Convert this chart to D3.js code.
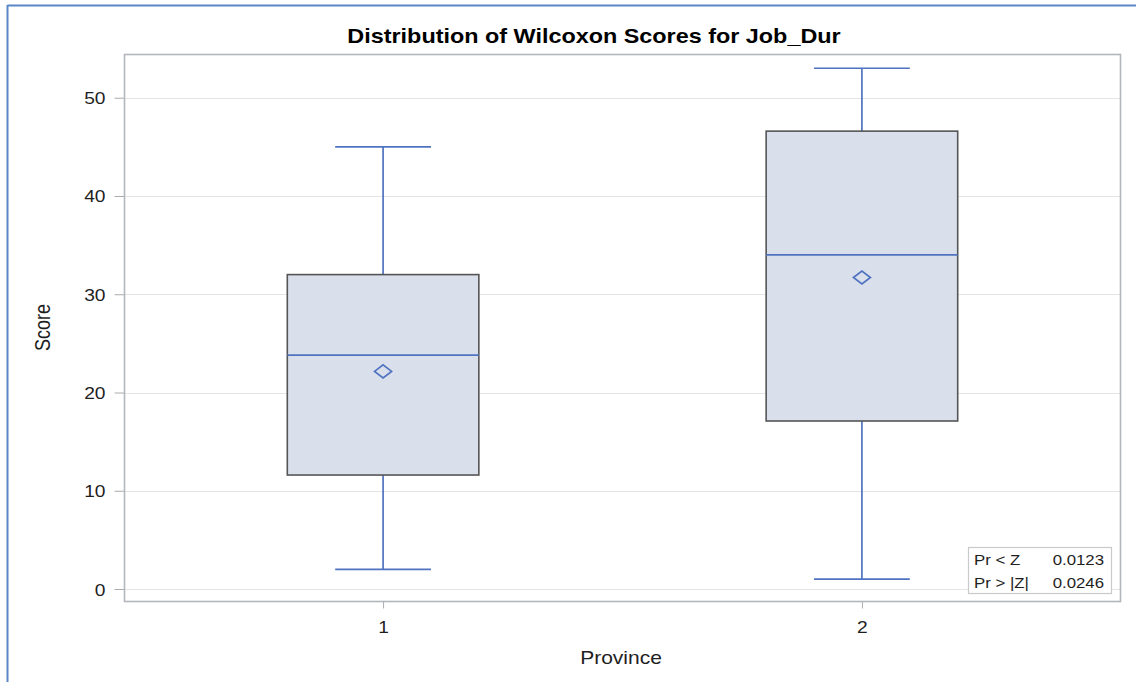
<!DOCTYPE html>
<html>
<head>
<meta charset="utf-8">
<script src="https://cdn.jsdelivr.net/npm/d3@7"></script>
<style>
  html, body { margin: 0; padding: 0; background: #fff; }
  svg { display: block; font-family: "Liberation Sans", Arial, sans-serif; }
</style>
</head>
<body>
<svg id="chart" width="1136" height="682"></svg>
<script>
// Wilcoxon score distribution by province
const provinces = ["1", "2"];
const whiskerLow = [2, 1];
const quartile1 = [11.6, 17.1];
const medians = [23.8, 34.0];
const quartile3 = [32.0, 46.6];
const whiskerHigh = [45, 53];
const means = [22.15, 31.7];
const yTicks = [0, 10, 20, 30, 40, 50];
const statLabels = ["Pr < Z", "Pr > |Z|"];
const statValues = ["0.0123", "0.0246"];

const svg = d3.select("#chart");
const W = 1136, H = 682;
const plot = { left: 124.5, top: 54.5, right: 1120.5, bottom: 601.5 };
const SX = 1.2;            // horizontal widening applied to all type
const ink = "#1e1e1e";
const blue = "#4f73c0";

// text helper: places a horizontally widened label at (x, y)
function label(parent, x, y, str, size, anchor, extra) {
  const t = parent.append("text")
    .attr("transform", `translate(${x},${y}) scale(${SX},1)`)
    .attr("text-anchor", anchor)
    .attr("font-size", size)
    .attr("fill", ink)
    .text(str);
  if (extra) extra(t);
  return t;
}

// outer frame (blue rule along top and left)
svg.append("line").attr("x1", 7.5).attr("x2", W).attr("y1", 5.5).attr("y2", 5.5)
  .attr("stroke", "#5b87c8").attr("stroke-width", 2);
svg.append("line").attr("x1", 7.5).attr("x2", 7.5).attr("y1", 5).attr("y2", H)
  .attr("stroke", "#5b87c8").attr("stroke-width", 2);

const x = d3.scalePoint().domain(provinces).range([plot.left, plot.right]).padding(0.54);
const y = d3.scaleLinear().domain([-1.22, 54.4]).range([plot.bottom - 0.5, plot.top]);

const step = x.step();
const boxW = step * 0.4;
const capW = boxW / 2;

// gridlines
svg.append("g").selectAll("line").data(yTicks).join("line")
  .attr("x1", plot.left).attr("x2", plot.right)
  .attr("y1", d => Math.round(y(d)) + 0.5).attr("y2", d => Math.round(y(d)) + 0.5)
  .attr("stroke", "#e4e4e4").attr("stroke-width", 1.2);

// y axis: ticks from d3, labels widened by hand
const yAxis = svg.append("g").attr("transform", `translate(${plot.left},0)`)
  .call(d3.axisLeft(y).tickValues(yTicks).tickSize(10).tickFormat(d3.format("d")));
yAxis.select(".domain").remove();
yAxis.selectAll(".tick line").attr("stroke", "#a8acb0");
yAxis.selectAll(".tick text").remove();
yAxis.selectAll(".tick").each(function (d) {
  label(d3.select(this), -19, 6, d3.format("d")(d), 16, "end");
});

// x axis
const xAxis = svg.append("g").attr("transform", `translate(0,${plot.bottom})`)
  .call(d3.axisBottom(x).tickSize(7));
xAxis.select(".domain").remove();
xAxis.selectAll(".tick line").attr("stroke", "#a8acb0");
xAxis.selectAll(".tick text").remove();
xAxis.selectAll(".tick").each(function (d) {
  label(d3.select(this), 0, 31, d, 16, "middle");
});

// boxes
const groups = svg.append("g").selectAll("g").data(provinces).join("g");

function vline(sel, from, to) {
  sel.append("line")
    .attr("x1", d => x(d)).attr("x2", d => x(d))
    .attr("y1", (d, i) => y(from[i])).attr("y2", (d, i) => y(to[i]))
    .attr("stroke", blue).attr("stroke-width", 1.7);
}
function hline(sel, at, half) {
  sel.append("line")
    .attr("x1", d => x(d) - half).attr("x2", d => x(d) + half)
    .attr("y1", (d, i) => y(at[i])).attr("y2", (d, i) => y(at[i]))
    .attr("stroke", blue).attr("stroke-width", 1.7);
}
vline(groups, whiskerHigh, quartile3);
vline(groups, quartile1, whiskerLow);
hline(groups, whiskerHigh, capW / 2);
hline(groups, whiskerLow, capW / 2);

groups.append("rect")
  .attr("x", d => x(d) - boxW / 2).attr("width", boxW)
  .attr("y", (d, i) => y(quartile3[i]))
  .attr("height", (d, i) => y(quartile1[i]) - y(quartile3[i]))
  .attr("fill", "#d9e0ec").attr("stroke", "#555").attr("stroke-width", 1.6);

hline(groups, medians, boxW / 2);

// mean markers
groups.append("path")
  .attr("d", (d, i) => {
    const cx = x(d), cy = y(means[i]);
    return `M${cx - 8.5},${cy} L${cx},${cy - 6.5} L${cx + 8.5},${cy} L${cx},${cy + 6.5} Z`;
  })
  .attr("fill", "none").attr("stroke", blue).attr("stroke-width", 1.7);

// plot frame
svg.append("rect")
  .attr("x", plot.left).attr("y", plot.top)
  .attr("width", plot.right - plot.left).attr("height", plot.bottom - plot.top)
  .attr("fill", "none").attr("stroke", "#b3b6ba").attr("stroke-width", 1.6);

// p-value inset
const inset = svg.append("g");
inset.append("rect").attr("x", 968.5).attr("y", 547.5).attr("width", 143).attr("height", 46)
  .attr("fill", "#fff").attr("stroke", "#c8cacc").attr("stroke-width", 1.2);
statLabels.forEach((s, i) => label(inset, 974, 565 + i * 23, s, 14, "start"));
statValues.forEach((s, i) => label(inset, 1104, 565 + i * 23, s, 14, "end"));

// titles
label(svg, 594, 42.5, "Distribution of Wilcoxon Scores for Job_Dur", 19.5, "middle",
  t => t.attr("font-weight", "bold").attr("fill", "#000"));
label(svg, 621, 664, "Province", 17.5, "middle");
svg.append("text")
  .attr("transform", "translate(50,327.5) scale(1.25,1) rotate(-90)")
  .attr("text-anchor", "middle").attr("font-size", 18).attr("fill", ink)
  .text("Score");
</script>
</body>
</html>
